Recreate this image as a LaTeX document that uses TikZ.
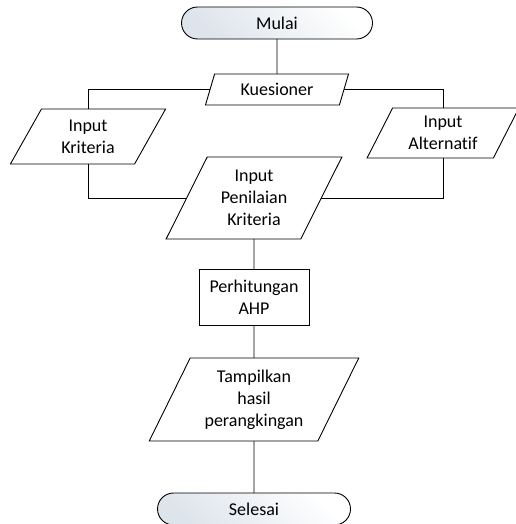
\documentclass[tikz,border=0pt]{standalone}
\usepackage{fontspec}
\setmainfont{Carlito}[Ligatures=NoCommon]
\usetikzlibrary{shapes.geometric,shapes.misc}
\definecolor{termshade}{RGB}{222,228,236}
\tikzset{
  base/.style={draw=black, line width=0.9pt, inner sep=0pt, outer sep=0pt,
    font=\fontsize{18}{22}\selectfont, align=center},
  term/.style={base, rounded rectangle, minimum width=#1, minimum height=32pt,
    shading=axis, top color=white, bottom color=termshade, shading angle=-45},
  io/.style n args={3}{base, trapezium, trapezium stretches=true,
    trapezium left angle=#3, trapezium right angle=180-#3,
    minimum width=#1, minimum height=#2},
  proc/.style={base, rectangle, minimum width=110pt, minimum height=56pt},
  conn/.style={line width=0.9pt}
}
\begin{document}
\begin{tikzpicture}[x=1pt,y=-1pt]
\useasboundingbox (0,0) rectangle (515,524);
\node[term=191pt] (mulai) at (277,23) {Mulai};
\node[io={144pt}{31pt}{67}] (kues) at (277,89.5) {Kuesioner};
\node[io={156pt}{55pt}{62.2}] (kri) at (88,136.5) {Input\\Kriteria};
\node[io={152pt}{50pt}{62.5}] (alt) at (443,133) {Input\\Alternatif};
\node[io={176pt}{82pt}{62.3}] (nil) at (254,198) {Input\\Penilaian\\Kriteria};
\node[proc] (hit) at (254,297) {Perhitungan\\AHP};
\node[io={210pt}{83pt}{62}] (tam) at (254,399.5) {Tampilkan\\hasil\\perangkingan};
\node[term=193pt] (sel) at (254,509) {Selesai};
\draw[conn] (mulai.south) -- (kues.north);
\draw[conn] (kues.west) -| (kri.north);
\draw[conn] (kues.east) -| (alt.north);
\draw[conn] (kri.south) |- (nil.west);
\draw[conn] (alt.south) |- (nil.east);
\draw[conn] (nil.south) -- (hit.north);
\draw[conn] (hit.south) -- (tam.north);
\draw[conn] (tam.south) -- (sel.north);
\end{tikzpicture}
\end{document}
